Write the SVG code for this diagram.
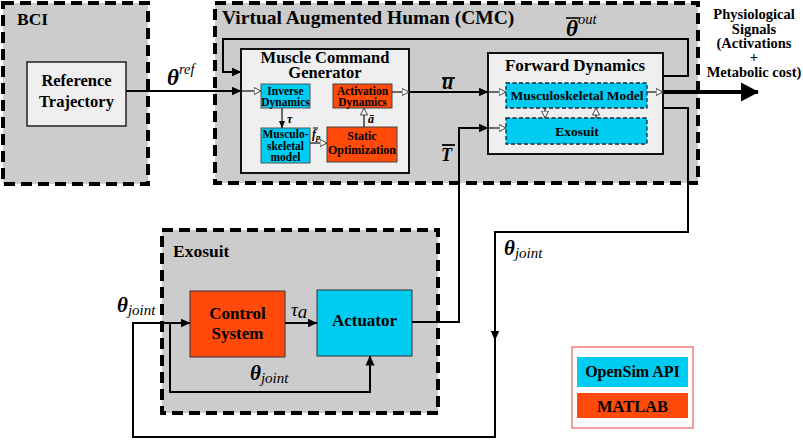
<svg xmlns="http://www.w3.org/2000/svg" width="803" height="441" viewBox="0 0 803 441">
<style>
.grp{fill:#cccccc;stroke:#000;stroke-width:4;stroke-dasharray:11 6}
.box{fill:#efefef;stroke:#111;stroke-width:2}
.cy{fill:#00ccf2;stroke:#555;stroke-width:1}
.or{fill:#ff4a0a;stroke:#444;stroke-width:1}
.cyd{fill:#00ccf2;stroke:#123;stroke-width:1.3;stroke-dasharray:4 2.5}
.t{font-family:"Liberation Serif","Times New Roman",serif;font-weight:bold;fill:#000}
.m{font-family:"Liberation Serif","Times New Roman",serif;font-weight:bold;font-style:italic;fill:#000}
.mi{font-family:"Liberation Serif","Times New Roman",serif;font-style:italic;fill:#000}
.c{text-anchor:middle}
.ln{fill:none;stroke:#000;stroke-width:2}
.lt{fill:none;stroke:#222;stroke-width:1.3}
</style>
<defs>
<marker id="fa" markerUnits="userSpaceOnUse" markerWidth="10" markerHeight="10" refX="9.5" refY="5" orient="auto"><path d="M0,0.5 L10,5 L0,9.5z" fill="#000"/></marker>
<marker id="fs" markerUnits="userSpaceOnUse" markerWidth="8" markerHeight="8" refX="7.5" refY="4" orient="auto"><path d="M0,0.8 L8,4 L0,7.2z" fill="#111"/></marker>
<marker id="ha" markerUnits="userSpaceOnUse" markerWidth="9" markerHeight="9" refX="7.5" refY="4" orient="auto"><path d="M0.5,0.5 L7.5,4 L0.5,7.5z" fill="#fff" stroke="#444" stroke-width="1"/></marker>
<marker id="big" markerUnits="userSpaceOnUse" markerWidth="18" markerHeight="20" refX="17" refY="10" orient="auto"><path d="M0,0.5 L18,10 L0,19.5z" fill="#000"/></marker>
</defs>

<g id="bci">
<rect class="grp" x="3" y="3" width="145" height="181"/>
<text class="t" x="17" y="25" font-size="17.5">BCI</text>
</g>
<g id="reference-trajectory">
<rect x="27" y="62" width="99" height="64" fill="#efefef" stroke="#222" stroke-width="1.5"/>
<text class="t c" x="76.5" y="86" font-size="16.5">Reference</text>
<text class="t c" x="76.5" y="107" font-size="16.5">Trajectory</text>
</g>

<g id="cmc">
<rect class="grp" x="215" y="3" width="483" height="180"/>
<text class="t" x="222" y="24" font-size="19.5">Virtual Augmented Human (CMC)</text>
</g>
<g id="muscle-command-generator">
<rect class="box" x="241" y="49" width="168" height="124"/>
<text class="t c" x="325" y="63" font-size="16.5">Muscle Command</text>
<text class="t c" x="325" y="78" font-size="16.5">Generator</text>
</g>
<g id="inverse-dynamics">
<rect class="cy" x="261" y="84" width="49" height="24"/>
<text class="t c" x="285.5" y="94.5" font-size="11.5">Inverse</text>
<text class="t c" x="285.5" y="105.5" font-size="11.5">Dynamics</text>
</g>
<g id="musculoskeletal-model-mcg">
<rect class="cy" x="261" y="128" width="49" height="35"/>
<text class="t c" x="285.5" y="138" font-size="11.5">Musculo-</text>
<text class="t c" x="285.5" y="149.5" font-size="11.5">skeletal</text>
<text class="t c" x="285.5" y="161" font-size="11.5">model</text>
</g>
<g id="activation-dynamics">
<rect class="or" x="333" y="84" width="59" height="24"/>
<text class="t c" x="362.5" y="94.5" font-size="11.5">Activation</text>
<text class="t c" x="362.5" y="105.5" font-size="11.5">Dynamics</text>
</g>
<g id="static-optimization">
<rect class="or" x="327" y="127" width="70" height="35"/>
<text class="t c" x="362" y="140" font-size="12">Static</text>
<text class="t c" x="362" y="154" font-size="12">Optimization</text>
</g>
<g id="forward-dynamics">
<rect class="box" x="488" y="53" width="175" height="101"/>
<text class="t c" x="575" y="71" font-size="17">Forward Dynamics</text>
</g>
<g id="musculoskeletal-model">
<rect class="cyd" x="506" y="83" width="141" height="25"/>
<text class="t c" x="577" y="100" font-size="13.5">Musculoskeletal Model</text>
</g>
<g id="exosuit-fd">
<rect class="cyd" x="506" y="118" width="141" height="26"/>
<text class="t c" x="577" y="136" font-size="13.5">Exosuit</text>
</g>

<g id="exosuit-group">
<rect class="grp" x="162" y="230" width="276" height="183"/>
<text class="t" x="173" y="257" font-size="17.5">Exosuit</text>
</g>
<g id="control-system">
<rect x="190" y="291" width="95" height="66" fill="#ff4a0a" stroke="#333" stroke-width="1"/>
<text class="t c" x="237.5" y="319" font-size="17">Control</text>
<text class="t c" x="237.5" y="339" font-size="17">System</text>
</g>
<g id="actuator">
<rect x="317" y="290" width="95" height="66" fill="#00ccf2" stroke="#333" stroke-width="1"/>
<text class="t c" x="364.5" y="326" font-size="17">Actuator</text>
</g>

<g id="physiological-signals">
<text class="t c" x="754" y="19" font-size="14.5">Physiological</text>
<text class="t c" x="754" y="33.5" font-size="14.5">Signals</text>
<text class="t c" x="754" y="48" font-size="14.5">(Activations</text>
<text class="t c" x="754" y="62" font-size="14.5">+</text>
<text class="t c" x="754" y="77" font-size="14.5">Metabolic cost)</text>
</g>

<g id="legend">
<rect x="572" y="347" width="121" height="81" fill="#fff" stroke="#f06a6a" stroke-width="1.3"/>
<rect x="577" y="357" width="111" height="30" fill="#00ccf2"/>
<text class="t c" x="632.5" y="377" font-size="16">OpenSim API</text>
<rect x="577" y="393" width="111" height="25" fill="#ff4a0a"/>
<text class="t c" x="632.5" y="412" font-size="16.5">MATLAB</text>
</g>

<g id="connectors">
<path class="ln" d="M126,91 H241" marker-end="url(#fa)"/>
<path class="ln" d="M663,76 H688 V39 H223 V72 H241" marker-end="url(#fa)"/>
<path class="lt" d="M241,91 H261" marker-end="url(#ha)"/>
<path class="lt" d="M282,108 V128" marker-end="url(#fs)"/>
<path class="lt" d="M310,143 H327" marker-end="url(#ha)"/>
<path class="lt" d="M364,127 V108" marker-end="url(#ha)"/>
<path class="lt" d="M392,92 H409" marker-end="url(#ha)"/>
<path class="ln" d="M409,92 H488" marker-end="url(#fa)"/>
<path class="lt" d="M488,92 H506" marker-end="url(#ha)"/>
<path class="ln" d="M412,322 H459 V128 H488" marker-end="url(#fa)"/>
<path class="lt" d="M488,128 H506" marker-end="url(#ha)"/>
<path class="lt" d="M545,108 V118" marker-end="url(#ha)"/>
<path class="lt" d="M596,118 V108" marker-end="url(#ha)"/>
<path class="lt" d="M647,92 H663" marker-end="url(#ha)"/>
<path fill="none" stroke="#000" stroke-width="4" d="M663,92 H758" marker-end="url(#big)"/>
<path class="ln" d="M663,108 H688 V232 H495 V340" marker-end="url(#fa)"/>
<path class="ln" d="M495,338 V437 H133 V323 H190" marker-end="url(#fa)"/>
<path class="ln" d="M170,323 V392 H370 V356" marker-end="url(#fa)"/>
<path class="ln" d="M285,323 H317" marker-end="url(#fa)"/>
</g>

<g id="labels">
<text x="167" y="85"><tspan class="m" font-size="23">θ</tspan><tspan class="mi" font-size="14.5" dy="-11">ref</tspan></text>
<line x1="566" y1="18" x2="580" y2="18" stroke="#000" stroke-width="1.6"/>
<text x="566" y="36"><tspan class="m" font-size="23">θ</tspan><tspan class="mi" font-size="14.5" dy="-12">out</tspan></text>
<line x1="442" y1="78" x2="455" y2="78" stroke="#000" stroke-width="1.8"/>
<text class="m" x="442" y="89" font-size="20">u</text>
<line x1="442" y1="145" x2="455" y2="145" stroke="#000" stroke-width="1.8"/>
<text class="m" x="441" y="161" font-size="18">T</text>
<text class="m" x="287" y="123" font-size="12">τ</text>
<text class="m" x="368" y="123" font-size="12">ā</text>
<line x1="313" y1="128" x2="318" y2="128" stroke="#000" stroke-width="1"/>
<text x="312" y="138"><tspan class="m" font-size="12">f</tspan><tspan class="m" font-size="9" dy="2">p</tspan></text>
<text x="117" y="312"><tspan class="m" font-size="21">θ</tspan><tspan class="mi" font-size="15" dy="3">joint</tspan></text>
<text x="250" y="380"><tspan class="m" font-size="21">θ</tspan><tspan class="mi" font-size="15" dy="3">joint</tspan></text>
<text x="504" y="255"><tspan class="m" font-size="21">θ</tspan><tspan class="mi" font-size="15" dy="3">joint</tspan></text>
<text x="291" y="316"><tspan class="mi" font-size="19">τ</tspan><tspan class="mi" font-size="19" dy="2">a</tspan></text>
</g>
</svg>
